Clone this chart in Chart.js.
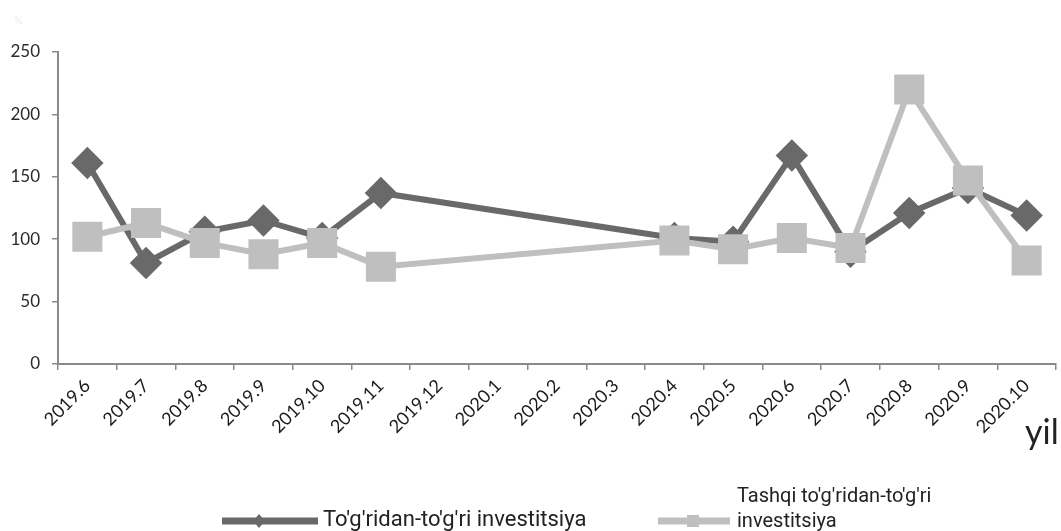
<!DOCTYPE html>
<html>
<head>
<meta charset="utf-8">
<script src="https://cdn.jsdelivr.net/npm/chart.js@4.4.1/dist/chart.umd.min.js"></script>
<style>
  body { margin: 0; background: #fff; }
  #wrap { width: 1061px; height: 531px; position: relative; }
</style>
</head>
<body>
<div id="wrap"><canvas id="myChart"></canvas></div>
<script>
// months on the x axis
var months = ['2019.6','2019.7','2019.8','2019.9','2019.10','2019.11','2019.12',
              '2020.1','2020.2','2020.3','2020.4','2020.5','2020.6','2020.7',
              '2020.8','2020.9','2020.10'];
// To'g'ridan-to'g'ri investitsiya (no data for 2019.12 - 2020.3)
var direct = [161, 81, 106, 115, 101, 137, null, null, null, null, 101, 98, 167, 90, 121, 141, 119];
// Tashqi to'g'ridan-to'g'ri investitsiya
var foreign = [102, 113, 97, 88, 97, 78, null, null, null, null, 99, 92, 101, 93, 220, 147, 83];
var yTicks = [0, 50, 100, 150, 200, 250];

var darkGrey = '#696969';
var lightGrey = '#bfbfbf';
var axisGrey = '#8a8a8a';

var extras = {
  id: 'extras',
  afterDraw: function(chart) {
    var c = chart.ctx;
    c.save();
    // faint mark top-left
    c.fillStyle = '#ececec';
    c.font = '11px Lato';
    c.textBaseline = 'middle';
    c.fillText('%', 14, 20);

    // axis name
    c.fillStyle = '#222';
    c.font = '34px Lato';
    c.textBaseline = 'alphabetic';
    c.fillText('yil', 1025, 444);

    // legend item 1
    c.strokeStyle = darkGrey;
    c.lineWidth = 7;
    c.beginPath(); c.moveTo(222, 521); c.lineTo(318, 521); c.stroke();
    c.fillStyle = darkGrey;
    c.beginPath();
    c.moveTo(259, 514); c.lineTo(265, 521); c.lineTo(259, 528); c.lineTo(253, 521);
    c.closePath(); c.fill();
    c.fillStyle = '#222';
    c.font = '22px "Liberation Sans Narrow", Roboto';
    c.textBaseline = 'middle';
    c.fillText("To'g'ridan-to'g'ri investitsiya", 323, 520);

    // legend item 2
    c.strokeStyle = lightGrey;
    c.lineWidth = 7;
    c.beginPath(); c.moveTo(658, 521); c.lineTo(730, 521); c.stroke();
    c.fillStyle = lightGrey;
    c.fillRect(687, 515, 12, 12);
    c.fillStyle = '#222';
    c.font = '20px "Liberation Sans Narrow", Roboto';
    c.fillText("Tashqi to'g'ridan-to'g'ri", 737, 497);
    c.fillText('investitsiya', 737, 522);
    c.restore();
  }
};

var ctx = document.getElementById('myChart').getContext('2d');
var myChart = new Chart(ctx, {
  type: 'line',
  data: {
    labels: months,
    datasets: [{
      label: "To'g'ridan-to'g'ri investitsiya",
      data: direct,
      borderColor: darkGrey,
      backgroundColor: darkGrey,
      borderWidth: 6,
      pointStyle: 'rectRot',
      pointRadius: 12,
      pointHoverRadius: 12,
      spanGaps: true,
      tension: 0,
      order: 2
    }, {
      label: "Tashqi to'g'ridan-to'g'ri investitsiya",
      data: foreign,
      borderColor: lightGrey,
      backgroundColor: lightGrey,
      borderWidth: 6,
      pointStyle: 'rect',
      pointRadius: 17,
      pointHoverRadius: 17,
      spanGaps: true,
      tension: 0,
      order: 1
    }]
  },
  options: {
    responsive: true,
    maintainAspectRatio: false,
    animation: false,
    clip: false,
    layout: { autoPadding: false, padding: { top: 52, right: 5, left: 0, bottom: 0 } },
    plugins: { legend: { display: false }, tooltip: { enabled: false } },
    scales: {
      x: {
        offset: true,
        grid: { drawOnChartArea: false, drawTicks: true, tickLength: 6, color: axisGrey, lineWidth: 1.5, offset: true },
        border: { color: axisGrey, width: 2 },
        ticks: { minRotation: 45, maxRotation: 45, color: '#1a1a1a', font: { family: 'Lato', size: 18 }, padding: 5 },
        afterFit: function(scale) {
          scale.height = 167;
          scale.paddingLeft = 0;
          scale.paddingRight = 0;
        }
      },
      y: {
        min: 0,
        max: 250,
        afterBuildTicks: function(scale) { scale.ticks = yTicks.map(function(v) { return { value: v }; }); },
        grid: { drawOnChartArea: false, drawTicks: true, tickLength: 6, color: axisGrey, lineWidth: 1.5 },
        border: { color: axisGrey, width: 2 },
        ticks: { color: '#2a2a2a', font: { family: 'Lato', size: 17 }, padding: 12 },
        afterFit: function(scale) { scale.width = 58; }
      }
    }
  },
  plugins: [extras]
});
</script>
</body>
</html>
